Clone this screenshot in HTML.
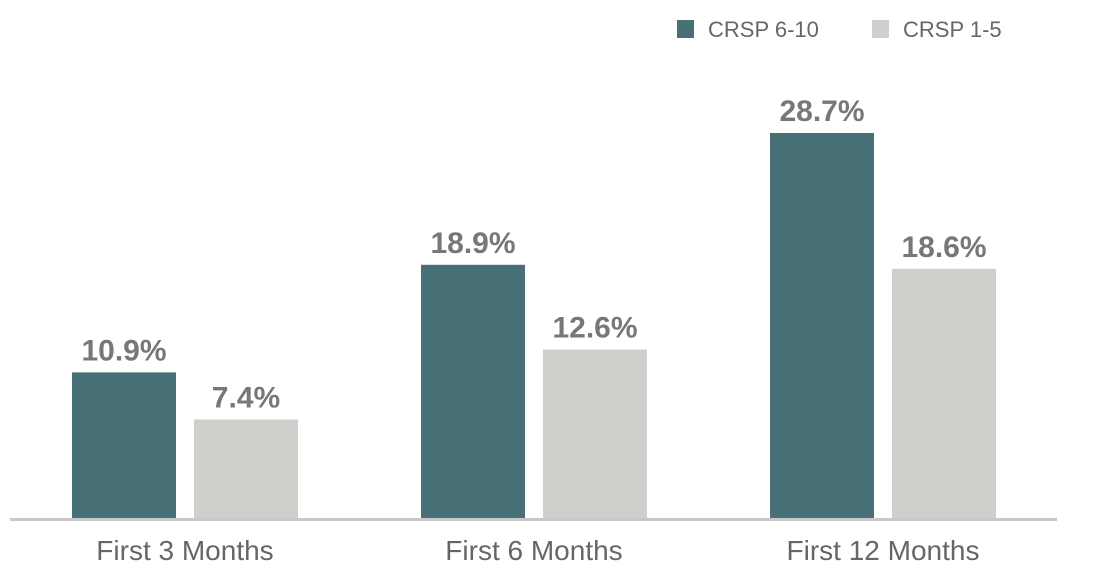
<!DOCTYPE html>
<html><head><meta charset="utf-8"><style>
html,body{margin:0;padding:0;background:#fff;}
svg{display:block;font-family:"Liberation Sans",sans-serif;}
</style></head><body>
<svg id="chart" width="1100" height="581" viewBox="0 0 1100 581" xmlns="http://www.w3.org/2000/svg">
  <g>
    <rect x="677" y="20" width="17" height="18" fill="#477077"/>
    <text x="708" y="37" font-size="22" fill="#666">CRSP 6-10</text>
    <rect x="872" y="20" width="17" height="18" fill="#cfcfcc"/>
    <text x="903" y="37" font-size="22" fill="#666">CRSP 1-5</text>
  </g>
  <g id="bars"></g>
  <g id="labels"></g>
  <rect x="10" y="518" width="1047" height="3" fill="#c8c8c8"/>
</svg>
<script>
const categories = ["First 3 Months", "First 6 Months", "First 12 Months"];
const seriesSmall = [10.9, 18.9, 28.7];
const seriesLarge = [7.4, 12.6, 18.6];
const valueLabelsSmall = ["10.9%", "18.9%", "28.7%"];
const valueLabelsLarge = ["7.4%", "12.6%", "18.6%"];

const NS = "http://www.w3.org/2000/svg";
const baseY = 519, pxPer = 13.45;
const groupStart = 72, groupStep = 349, barW = 104, gap = 18;
function yScale(v){ return baseY - v * pxPer; }
function xBar(i, s){ return groupStart + i * groupStep + s * (barW + gap); }
const barsG = document.getElementById('bars');
const labelsG = document.getElementById('labels');
function addBar(i, s, v, label, color, name){
  const r = document.createElementNS(NS, 'rect');
  
  
  r.setAttribute('x', xBar(i, s));
  r.setAttribute('y', yScale(v));
  r.setAttribute('width', barW);
  r.setAttribute('height', baseY - yScale(v));
  r.setAttribute('fill', color);
  barsG.appendChild(r);
  const t = document.createElementNS(NS, 'text');
  
  
  t.setAttribute('x', xBar(i, s) + barW/2);
  t.setAttribute('y', yScale(v) - 12);
  t.setAttribute('text-anchor', 'middle');
  t.setAttribute('font-size', '30');
  t.setAttribute('font-weight', 'bold');
  t.setAttribute('fill', '#777');
  t.textContent = label;
  labelsG.appendChild(t);
}
categories.forEach((c, i) => {
  addBar(i, 0, seriesSmall[i], valueLabelsSmall[i], '#477077', 'bar-crsp-6-10');
  addBar(i, 1, seriesLarge[i], valueLabelsLarge[i], '#cfcfcc', 'bar-crsp-1-5');
  const t = document.createElementNS(NS, 'text');
  
  
  t.setAttribute('x', xBar(i, 0) + barW + gap/2);
  t.setAttribute('y', 560);
  t.setAttribute('text-anchor', 'middle');
  t.setAttribute('font-size', '28');
  t.setAttribute('fill', '#666');
  t.textContent = c;
  labelsG.appendChild(t);
});
</script>
</body></html>
